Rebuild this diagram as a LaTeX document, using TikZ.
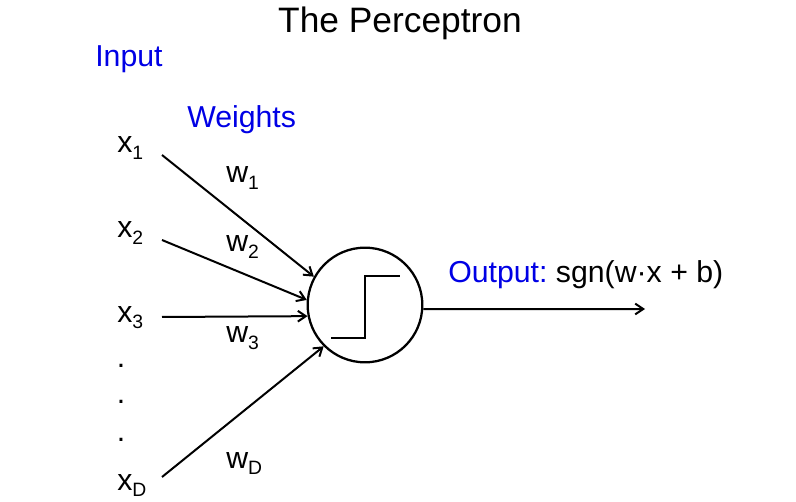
\documentclass[tikz,border=0pt]{standalone}
\usepackage{fontspec}
\setmainfont{Liberation Sans}
\usetikzlibrary{arrows.meta, calc}
\newcommand{\lowsub}[1]{\raisebox{-5pt}{\fontsize{14.5}{16}\selectfont #1}}

\begin{document}
\begin{tikzpicture}[
            x=0.75pt, y=-0.75pt,
            txt/.style={anchor=base west, inner sep=0pt, font=\fontsize{22.7}{26}\selectfont},
            lbl/.style={txt, blue!90!black},
            dotmark/.style={txt, anchor=base},
            unit/.style={circle, draw, line width=1.7pt, minimum size=86pt, inner sep=0pt},
            conn/.style={line width=1.5pt, -{Straight Barb[length=6pt,width=8pt]}},
            stepfn/.style={line width=0.8pt}
        ]
            \useasboundingbox (0,0) rectangle (796,502);

            % --- title and headings ---
            \node[txt, anchor=base, font=\fontsize{26.5}{30}\selectfont] (title) at (400,33) {The Perceptron};
            \node[lbl] (input) at (95,67) {Input};
            \node[lbl] (weights) at (187,128) {Weights};

            % --- inputs ---
            \node[txt] (x1) at (117,153) {x\lowsub{1}};
            \node[txt] (x2) at (117,238) {x\lowsub{2}};
            \node[txt] (x3) at (117,322) {x\lowsub{3}};
            \node[dotmark] (d1) at (121,368) {.};
            \node[dotmark] (d2) at (121,403) {.};
            \node[dotmark] (d3) at (121,441) {.};
            \node[txt] (xD) at (117,490) {x\lowsub{D}};

            \coordinate (in1) at (162,155);
            \coordinate (in2) at (162,240);
            \coordinate (in3) at (162,317);
            \coordinate (inD) at (162,477);

            % --- unit with step function ---
            \node[unit] (neuron) at (365,305) {};
            \draw[stepfn] ([shift={(-34,33)}]neuron.center) -- ++(34,0) -- ++(0,-62) -- ++(35,0);

            % --- weighted links ---
            \draw[conn] (in1) -- (neuron.151);
            \draw[conn] (in2) -- (neuron.175);
            \draw[conn] (in3) -- (neuron.191);
            \draw[conn] (inD) -- (neuron.225);

            \node[txt] (w1) at (226,183) {w\lowsub{1}};
            \node[txt] (w2) at (226,252) {w\lowsub{2}};
            \node[txt] (w3) at (226,343) {w\lowsub{3}};
            \node[txt] (wD) at (226,468) {w\lowsub{D}};

            % --- output ---
            \coordinate (out) at (645,309);
            \draw[conn] (neuron.-4) -- (out);
            \node[txt] (output) at (448,282) {\textcolor{blue!90!black}{Output:}~sgn(w·x + b)};

        \end{tikzpicture}
\end{document}
